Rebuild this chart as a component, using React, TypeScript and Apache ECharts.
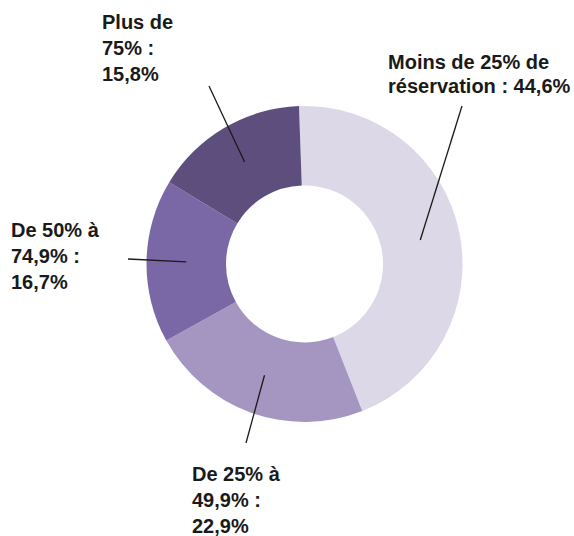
import React, { useEffect, useRef } from "react";
import * as echarts from "echarts";

const categories = [
  "Moins de 25% de réservation",
  "De 25% à 49,9%",
  "De 50% à 74,9%",
  "Plus de 75%",
];
const values = [44.6, 22.9, 16.7, 15.8];
const colors = ["#dcd8e8", "#a596c1", "#7a67a6", "#5e4e7d"];
const labelTexts = [
  "Moins de 25% de\nréservation : 44,6%",
  "De 25% à\n49,9% :\n22,9%",
  "De 50% à\n74,9% :\n16,7%",
  "Plus de\n75% :\n15,8%",
];
// annotation placement (text top-left and leader-line outer end)
const labelPos = [
  [388, 50],
  [192, 461],
  [11, 217],
  [102, 9],
];
const lineEnds = [
  [462, 106],
  [246, 443],
  [128, 259],
  [209, 86],
];

const CX = 304.5;
const CY = 264;
const R_IN = 78.5;
const R_OUT = 158;
const START = 92;

export default function App() {
  const ref = useRef<HTMLDivElement>(null);
  useEffect(() => {
    if (!ref.current) return;
    const chart = echarts.init(ref.current, null, { renderer: "svg" });
    const total = values.reduce((a, b) => a + b, 0);
    const rMid = (R_IN + R_OUT) / 2;
    let cum = 0;
    const graphics: any[] = [];
    values.forEach((v, i) => {
      const frac = (cum + v / 2) / total;
      cum += v;
      const a = ((START - 360 * frac) * Math.PI) / 180;
      const x1 = CX + rMid * Math.cos(a);
      const y1 = CY - rMid * Math.sin(a);
      graphics.push({
        type: "line",
        z: 100,
        shape: { x1, y1, x2: lineEnds[i][0], y2: lineEnds[i][1] },
        style: { stroke: "#1a1a1a", lineWidth: 1.3 },
      });
      graphics.push({
        type: "text",
        z: 100,
        x: labelPos[i][0],
        y: labelPos[i][1],
        style: {
          text: labelTexts[i],
          fill: "#1a1a1a",
          font: "bold 20px 'Liberation Sans', Arial, sans-serif",
          lineHeight: i === 0 ? 24 : 26,
          align: "left",
          verticalAlign: "top",
        },
      });
    });
    chart.setOption({
      animation: false,
      backgroundColor: "#ffffff",
      series: [
        {
          type: "pie",
          center: [CX, CY],
          radius: [R_IN, R_OUT],
          startAngle: START,
          clockwise: true,
          avoidLabelOverlap: false,
          label: { show: false },
          labelLine: { show: false },
          emphasis: { disabled: true },
          data: categories.map((name, i) => ({
            name,
            value: values[i],
            itemStyle: { color: colors[i] },
          })),
        },
      ],
      graphic: graphics,
    });
    return () => chart.dispose();
  }, []);
  return (
    <div
      ref={ref}
      style={{ position: "fixed", left: 0, top: 0, width: 574, height: 536 }}
    />
  );
}
